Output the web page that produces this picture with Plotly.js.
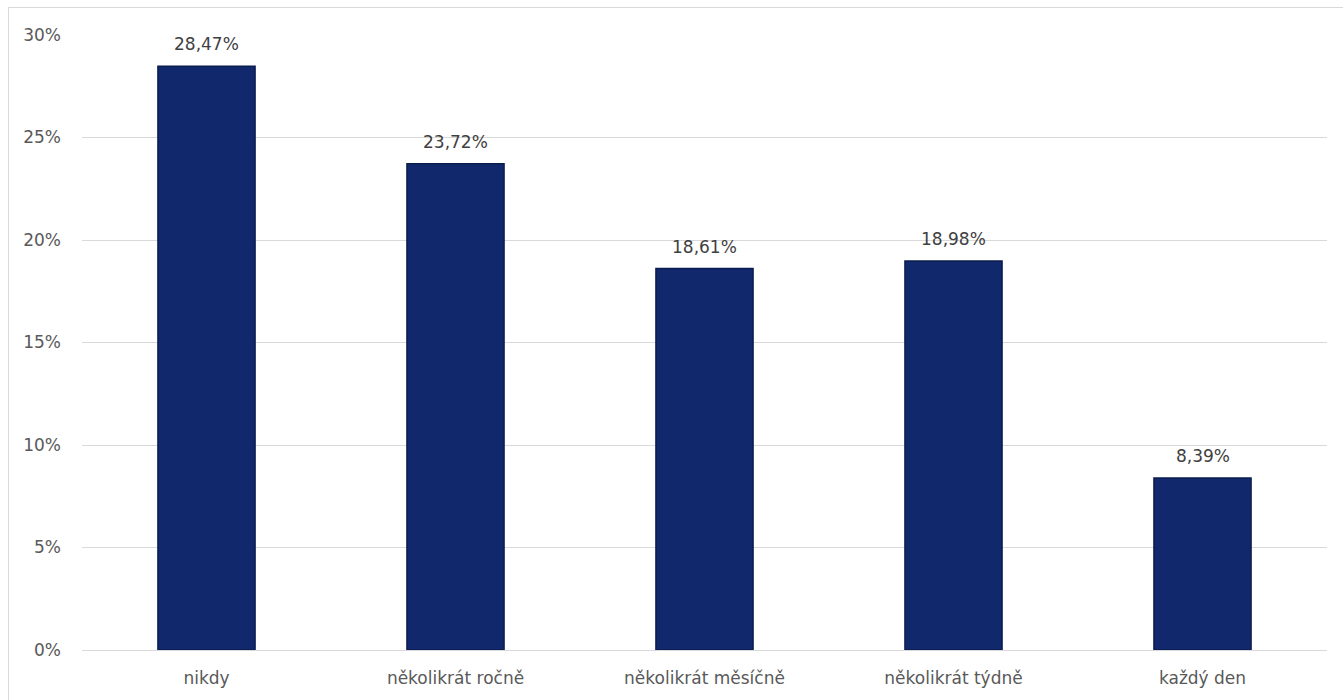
<!DOCTYPE html>
<html>
<head>
<meta charset="utf-8">
<script src="https://cdn.plot.ly/plotly-3.0.1.min.js"></script>
<style>
  html, body { margin: 0; padding: 0; background: #ffffff; overflow: hidden; }
  #frame { position: absolute; left: 8px; top: 7px; width: 1345px; height: 705px; border: 1px solid #d9d9d9; box-sizing: border-box; }
  #chart { position: absolute; left: 0; top: 0; width: 1343px; height: 700px; }
</style>
</head>
<body>
<div id="frame"></div>
<div id="chart"></div>
<script>
const categories = ["nikdy", "několikrát ročně", "několikrát měsíčně", "několikrát týdně", "každý den"];
const values = [28.47, 23.72, 18.61, 18.98, 8.39];
const yTicks = [0, 5, 10, 15, 20, 25, 30];

const labels = values.map(v => v.toFixed(2).replace('.', ',') + '%');
const FONT = 'DejaVu Sans, sans-serif';

const trace = {
  type: 'bar',
  x: categories,
  y: values,
  marker: { color: '#11296c', line: { color: '#0a1c4f', width: 1.5 } },
  width: 0.39,
  hoverinfo: 'skip'
};

const annotations = categories.map((c, i) => ({
  x: c,
  y: values[i],
  xref: 'x',
  yref: 'y',
  text: labels[i],
  showarrow: false,
  yanchor: 'bottom',
  yshift: 10,
  font: { family: FONT, size: 17, color: '#404040' }
}));

const layout = {
  width: 1343,
  height: 700,
  margin: { l: 82, r: 16, t: 35, b: 50 },
  paper_bgcolor: 'rgba(0,0,0,0)',
  plot_bgcolor: 'rgba(0,0,0,0)',
  showlegend: false,
  font: { family: FONT, size: 17, color: '#595959' },
  annotations: annotations,
  xaxis: {
    type: 'category',
    showgrid: false,
    showline: true,
    linecolor: '#d9d9d9',
    linewidth: 1,
    ticks: '',
    tickfont: { family: FONT, size: 17, color: '#595959' },
    ticklabelstandoff: 13
  },
  yaxis: {
    range: [0, 30],
    tickvals: yTicks,
    ticktext: yTicks.map(t => t + '%'),
    showgrid: true,
    gridcolor: '#d9d9d9',
    gridwidth: 1,
    zeroline: false,
    showline: false,
    ticks: '',
    tickfont: { family: FONT, size: 17, color: '#595959' },
    ticklabelstandoff: 20
  }
};

Plotly.newPlot('chart', [trace], layout, { displayModeBar: false, staticPlot: true });
</script>
</body>
</html>
